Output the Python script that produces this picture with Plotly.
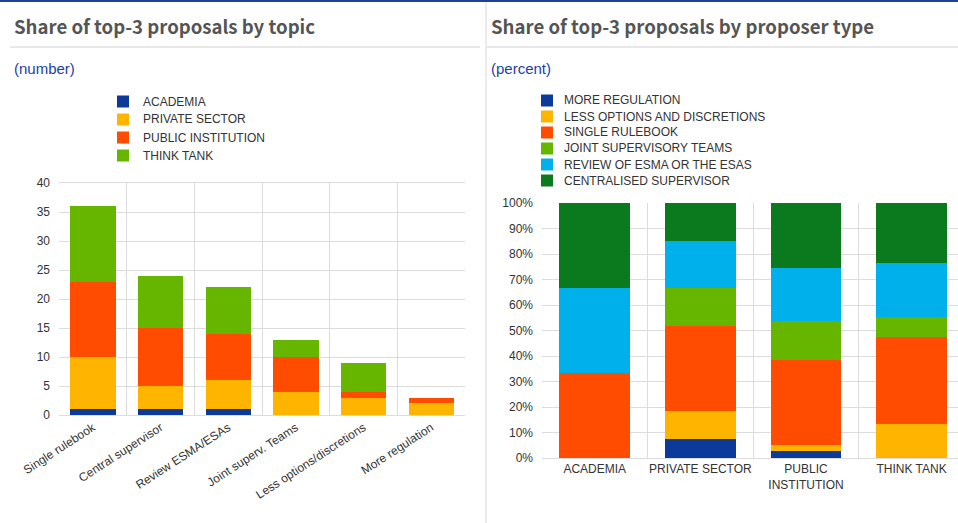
import plotly.graph_objects as go

# ---- data -------------------------------------------------------------
topics = [
    "Single rulebook",
    "Central supervisor",
    "Review ESMA/ESAs",
    "Joint superv. Teams",
    "Less options/discretions",
    "More regulation",
]
proposer_types = ["ACADEMIA", "PRIVATE SECTOR", "PUBLIC INSTITUTION", "THINK TANK"]
proposer_tick_labels = ["ACADEMIA", "PRIVATE SECTOR", "PUBLIC<br>INSTITUTION", "THINK TANK"]

# counts per topic, one list per proposer type (same order as `topics`)
academia = [1, 1, 1, 0, 0, 0]
private_sector = [9, 4, 5, 4, 3, 2]
public_institution = [13, 10, 8, 6, 1, 1]
think_tank = [13, 9, 8, 3, 5, 0]

# legend names for the right chart (stack order bottom -> top)
topic_legend = [
    "MORE REGULATION",
    "LESS OPTIONS AND DISCRETIONS",
    "SINGLE RULEBOOK",
    "JOINT SUPERVISORY TEAMS",
    "REVIEW OF ESMA OR THE ESAS",
    "CENTRALISED SUPERVISOR",
]
topic_legend_index = [5, 4, 0, 3, 2, 1]  # position of each legend topic in `topics`

# ---- colours ----------------------------------------------------------
DARK_BLUE = "#0b3a9b"
YELLOW = "#ffb400"
ORANGE = "#ff4c00"
LIGHT_GREEN = "#66b600"
LIGHT_BLUE = "#00b0ea"
DARK_GREEN = "#0b7a1f"
GRID = "#dcdcdc"
TICK = "#333333"
FONT = "Liberation Sans, Arial, sans-serif"

W, H = 958, 523


def px_x(x):
    return x / W


def px_y(y):
    return 1 - y / H


fig = go.Figure()

# left chart: counts by topic, stacked by proposer type
left_series = [academia, private_sector, public_institution, think_tank]
left_colors = [DARK_BLUE, YELLOW, ORANGE, LIGHT_GREEN]
for name, vals, col in zip(proposer_types, left_series, left_colors):
    fig.add_trace(
        go.Bar(
            x=topics,
            y=vals,
            name=name,
            marker=dict(color=col, line=dict(width=0)),
            xaxis="x",
            yaxis="y",
            showlegend=False,
        )
    )

# right chart: share of each topic within a proposer type
totals = [sum(s) for s in left_series]
right_colors = [DARK_BLUE, YELLOW, ORANGE, LIGHT_GREEN, LIGHT_BLUE, DARK_GREEN]
for name, idx, col in zip(topic_legend, topic_legend_index, right_colors):
    shares = [s[idx] / t * 100 for s, t in zip(left_series, totals)]
    fig.add_trace(
        go.Bar(
            x=proposer_types,
            y=shares,
            name=name,
            marker=dict(color=col, line=dict(width=0)),
            xaxis="x2",
            yaxis="y2",
            showlegend=False,
        )
    )

# ---- panel decorations ------------------------------------------------
shapes = [
    dict(type="line", xref="paper", yref="paper", x0=0, x1=1, y0=px_y(1), y1=px_y(1),
         line=dict(color="#1f3f9a", width=2)),
    dict(type="line", xref="paper", yref="paper", x0=px_x(486), x1=px_x(486), y0=0, y1=px_y(2),
         line=dict(color="#d8d8d8", width=1)),
    dict(type="line", xref="paper", yref="paper", x0=px_x(10), x1=px_x(480), y0=px_y(47), y1=px_y(47),
         line=dict(color="#d0d0d0", width=1)),
    dict(type="line", xref="paper", yref="paper", x0=px_x(487), x1=1, y0=px_y(47), y1=px_y(47),
         line=dict(color="#d0d0d0", width=1)),
]

title_font = dict(family="Noto Sans CJK JP, sans-serif", size=18.6, color="#555555")
sub_font = dict(family=FONT, size=15, color="#1a3fa8")
annotations = [
    dict(text="<b>Share of top-3 proposals by topic</b>", x=px_x(12), y=px_y(25),
         xref="paper", yref="paper", xanchor="left", yanchor="middle", showarrow=False, font=title_font),
    dict(text="<b>Share of top-3 proposals by proposer type</b>", x=px_x(489), y=px_y(25),
         xref="paper", yref="paper", xanchor="left", yanchor="middle", showarrow=False, font=title_font),
    dict(text="(number)", x=px_x(12), y=px_y(69),
         xref="paper", yref="paper", xanchor="left", yanchor="middle", showarrow=False, font=sub_font),
    dict(text="(percent)", x=px_x(489), y=px_y(69),
         xref="paper", yref="paper", xanchor="left", yanchor="middle", showarrow=False, font=sub_font),
]


def add_legend(names, colors, x_swatch, x_text, y_first, step):
    # simple legend: square swatch plus label per row
    for i, (name, col) in enumerate(zip(names, colors)):
        yc = y_first + i * step
        shapes.append(dict(type="rect", xref="paper", yref="paper",
                           x0=px_x(x_swatch), x1=px_x(x_swatch + 12),
                           y0=px_y(yc + 6), y1=px_y(yc - 6),
                           fillcolor=col, line=dict(width=0)))
        annotations.append(dict(text=name, x=px_x(x_text), y=px_y(yc), xref="paper", yref="paper",
                                xanchor="left", yanchor="middle", showarrow=False,
                                font=dict(family=FONT, size=12, color=TICK)))


add_legend(proposer_types, left_colors, 117, 141, 101.5, 18)
add_legend(topic_legend, right_colors, 541, 562, 100.5, 16)

fig.update_layout(
    width=W,
    height=H,
    margin=dict(l=0, r=0, t=0, b=0, autoexpand=False),
    paper_bgcolor="white",
    plot_bgcolor="white",
    barmode="stack",
    bargap=0.33,
    showlegend=False,
    font=dict(family=FONT, size=12, color=TICK),
    shapes=shapes,
    annotations=annotations,
    xaxis=dict(
        domain=[px_x(59), px_x(465)],
        anchor="y",
        automargin=False,
        tickangle=-33,
        tickson="boundaries",
        showgrid=True,
        gridcolor=GRID,
        showline=True,
        linecolor=GRID,
        mirror=True,
        ticks="",
        tickfont=dict(size=12, color=TICK),
    ),
    yaxis=dict(
        domain=[px_y(415), px_y(183)],
        anchor="x",
        automargin=False,
        range=[0, 40],
        tick0=0,
        dtick=5,
        showgrid=True,
        gridcolor=GRID,
        zeroline=False,
        ticks="",
        ticklabelstandoff=8,
        tickfont=dict(size=12, color=TICK),
    ),
    xaxis2=dict(
        domain=[px_x(542), 1],
        anchor="y2",
        automargin=False,
        range=[-0.5, 3.44],
        tickvals=proposer_types,
        ticktext=proposer_tick_labels,
        tickangle=0,
        tickson="boundaries",
        showgrid=True,
        gridcolor=GRID,
        showline=True,
        linecolor=GRID,
        ticks="",
        tickfont=dict(size=12, color=TICK),
    ),
    yaxis2=dict(
        domain=[px_y(458), px_y(203)],
        anchor="x2",
        automargin=False,
        range=[0, 100],
        tick0=0,
        dtick=10,
        ticksuffix="%",
        showgrid=True,
        gridcolor=GRID,
        zeroline=False,
        ticks="",
        ticklabelstandoff=8,
        tickfont=dict(size=12, color=TICK),
    ),
)

fig.write_html(
    "out.html",
    config={"displayModeBar": False},
    post_script="document.body.style.margin = '0';",
)
